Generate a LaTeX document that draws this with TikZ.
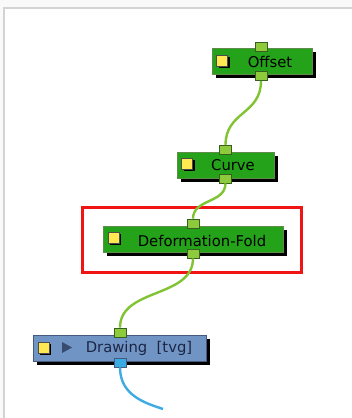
\documentclass[tikz,border=0pt]{standalone}
\usepackage{fontspec}
\setmainfont{DejaVu Sans}
\usetikzlibrary{shadows}
\definecolor{fxgreen}{RGB}{36,163,26}
\definecolor{fxborder}{RGB}{95,140,75}
\definecolor{portgreen}{RGB}{141,202,60}
\definecolor{portborder}{RGB}{55,95,30}
\definecolor{wiregreen}{RGB}{128,196,52}
\definecolor{drawblue}{RGB}{112,148,196}
\definecolor{drawborder}{RGB}{70,90,125}
\definecolor{portblue}{RGB}{56,172,226}
\definecolor{wireblue}{RGB}{62,172,226}
\definecolor{yel}{RGB}{255,232,82}
\definecolor{navy}{RGB}{28,38,68}
\definecolor{tri}{RGB}{55,75,110}
\definecolor{bgouter}{RGB}{249,249,249}
\definecolor{framegray}{RGB}{211,211,211}
\definecolor{hlred}{RGB}{240,20,20}
\begin{document}
\begin{tikzpicture}[x=1pt,y=-1pt,
  fxbox/.style={draw=fxborder, line width=0.8pt, fill=fxgreen, minimum height=26pt, inner sep=0pt,
    drop shadow={shadow xshift=4pt, shadow yshift=-4pt, fill=black, opacity=1}},
  dbox/.style={draw=drawborder, line width=0.8pt, fill=drawblue, minimum height=26pt, inner sep=0pt,
    drop shadow={shadow xshift=4pt, shadow yshift=-4pt, fill=black, opacity=1}},
  gport/.style={draw=portborder, line width=0.7pt, fill=portgreen, minimum width=12pt, minimum height=9pt, inner sep=0pt},
  bport/.style={draw=drawborder, line width=0.7pt, fill=portblue, minimum width=12pt, minimum height=9pt, inner sep=0pt},
  ysq/.style={draw=black!70, line width=0.6pt, fill=yel, minimum size=11pt, inner sep=0pt,
    drop shadow={shadow xshift=2pt, shadow yshift=-2pt, fill=black, opacity=1}},
  lbl/.style={inner sep=0pt, font=\fontsize{14.8}{17}\selectfont},
  wire/.style={draw=wiregreen, line width=2.4pt},
  bwire/.style={draw=wireblue, line width=2.4pt}
]
\useasboundingbox (0,0) rectangle (352,418);
\fill[bgouter] (0,0) rectangle (352,418);
\fill[white] (4,8) rectangle (352,418);
\draw[framegray, line width=2pt] (4,418) -- (4,8) -- (352,8);

% highlight
\node[draw=hlred, line width=2.5pt, minimum width=219pt, minimum height=65pt, inner sep=0pt] (highlight) at (192,240) {};

% boxes
\node[fxbox, minimum width=100pt] (offset) at (262,61) {};
\node[fxbox, minimum width=97pt] (curve) at (225.5,165) {};
\node[fxbox, minimum width=180pt] (fold) at (193,239) {};
\node[dbox, minimum width=173pt] (drawing) at (119.5,348) {};

% yellow squares
\node[ysq] (offsetsq) at (222,60.5) {};
\node[ysq] (curvesq) at (187,163.5) {};
\node[ysq] (foldsq) at (113.5,237.5) {};
\node[ysq] (drawingsq) at (43.5,347.5) {};

% labels
\node[lbl] (offsetlbl) at (270,62) {Offset};
\node[lbl] (curvelbl) at (233,165) {Curve};
\node[lbl] (foldlbl) at (202,241) {Deformation-Fold};
\node[lbl, text=navy] (drawinglbl) at (139,348) {Drawing~~[tvg]};
\fill[tri] (62,342) -- (72,347.5) -- (62,353) -- cycle;

% ports
\node[gport] (offsetin) at (261,46.5) {};
\node[gport] (offsetout) at (261,76) {};
\node[gport] (curvein) at (225.5,150) {};
\node[gport] (curveout) at (225.5,178.5) {};
\node[gport] (foldin) at (193,223.5) {};
\node[gport] (foldout) at (193,253.5) {};
\node[gport] (drawingin) at (120,332.5) {};
\node[bport] (drawingout) at (120,362.5) {};
\coordinate (outend) at (163,409);

% wires
\draw[wire] (offsetout.south) .. controls +(0,34) and +(0,-34) .. (curvein.north);
\draw[wire] (curveout.south) .. controls +(0,20) and +(0,-20) .. (foldin.north);
\draw[wire] (foldout.south) .. controls +(0,40) and +(0,-40) .. (drawingin.north);
\draw[bwire] (drawingout.south) .. controls +(0,28) and +(-18,-6) .. (outend);
\end{tikzpicture}
\end{document}
